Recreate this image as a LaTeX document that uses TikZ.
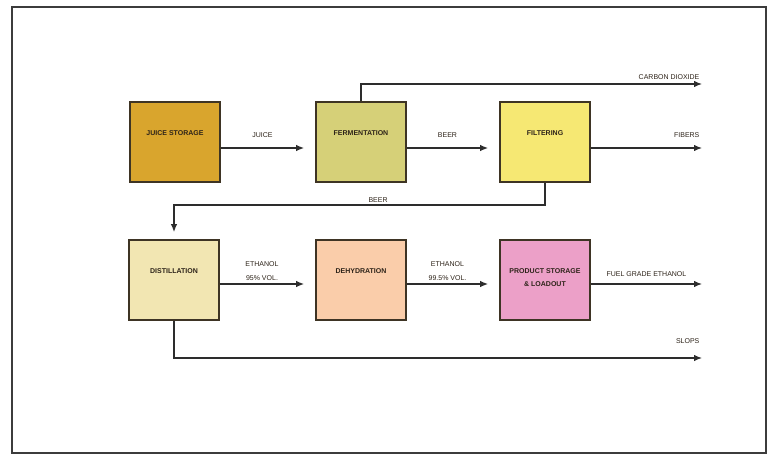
\documentclass[tikz,border=0pt]{standalone}
\usepackage{fontspec}
\setmainfont{Liberation Sans}
\usetikzlibrary{arrows.meta}
\definecolor{juicegold}{RGB}{217, 165, 45}
\definecolor{fermolive}{RGB}{214, 208, 120}
\definecolor{filtyellow}{RGB}{246, 232, 115}
\definecolor{distcream}{RGB}{242, 230, 178}
\definecolor{dehypeach}{RGB}{250, 205, 170}
\definecolor{prodpink}{RGB}{236, 160, 200}
\definecolor{boxline}{RGB}{62, 52, 36}
\definecolor{flowgray}{RGB}{45, 45, 45}
\definecolor{textdark}{RGB}{45, 35, 25}
\definecolor{framegray}{RGB}{60, 60, 60}

\begin{document}
\begin{tikzpicture}[
        x=1pt, y=-1pt,
        process/.style={
            draw=boxline,
            line width=1.8pt,
            minimum width=90pt,
            minimum height=80pt,
            inner sep=0pt
        },
        inside/.style={
            anchor=north,
            yshift=-26pt,
            align=center,
            text=textdark,
            font=\fontsize{7}{12.5}\selectfont\bfseries
        },
        flow/.style={
            draw=flowgray,
            line width=1.2pt,
            -{Latex[length=8pt,width=6.5pt]}
        },
        tag/.style={
            text=textdark,
            align=center,
            inner sep=2pt,
            font=\fontsize{7}{13.5}\selectfont
        }
    ]

    \useasboundingbox (0,0) rectangle (768,455);
    \draw[framegray, line width=2pt] (12,7) rectangle (766,453);

    % upper row
    \node[process, fill=juicegold, label={[inside]north:JUICE STORAGE}] (juice) at (175,142) {};
    \node[process, fill=fermolive, label={[inside]north:FERMENTATION}] (ferm) at (361,142) {};
    \node[process, fill=filtyellow, label={[inside]north:FILTERING}] (filt) at (545,142) {};

    % lower row
    \node[process, fill=distcream, label={[inside]north:DISTILLATION}] (dist) at (174,280) {};
    \node[process, fill=dehypeach, label={[inside]north:DEHYDRATION}] (dehy) at (361,280) {};
    \node[process, fill=prodpink, label={[inside]north:PRODUCT STORAGE\\\& LOADOUT}] (prod) at (545,280) {};

    % outlets
    \coordinate (co2) at (702,84);
    \coordinate (fibers) at (702,148);
    \coordinate (fuel) at (702,284);
    \coordinate (slops) at (702,358);

    \draw[flow] ([yshift=-6pt]juice.east) -- node[tag, above, yshift=8pt]{JUICE} ([yshift=-6pt, xshift=-11pt]ferm.west);
    \draw[flow] ([yshift=-6pt]ferm.east) -- node[tag, above, yshift=8pt]{BEER} ([yshift=-6pt, xshift=-11pt]filt.west);
    \draw[flow] (ferm.north) |- node[tag, above left, pos=1, yshift=2pt]{CARBON DIOXIDE} (co2);
    \draw[flow] ([yshift=-6pt]filt.east) -- node[tag, above left, pos=1, yshift=8pt]{FIBERS} (fibers);
    \draw[flow] (filt.south) -- ++(0,22) coordinate (back)
        -- node[tag, above, pos=0.45]{BEER} (dist.north |- back)
        -- ([yshift=7pt]dist.north);

    \draw[flow] ([yshift=-4pt]dist.east) -- node[tag, above, yshift=1pt]{ETHANOL\\95\% VOL.} ([yshift=-4pt, xshift=-11pt]dehy.west);
    \draw[flow] ([yshift=-4pt]dehy.east) -- node[tag, above, yshift=1pt]{ETHANOL\\99.5\% VOL.} ([yshift=-4pt, xshift=-11pt]prod.west);
    \draw[flow] ([yshift=-4pt]prod.east) -- node[tag, above, yshift=5pt]{FUEL GRADE ETHANOL} (fuel);
    \draw[flow] (dist.south) |- node[tag, above left, pos=1, yshift=12pt]{SLOPS} (slops);
\end{tikzpicture}
\end{document}
